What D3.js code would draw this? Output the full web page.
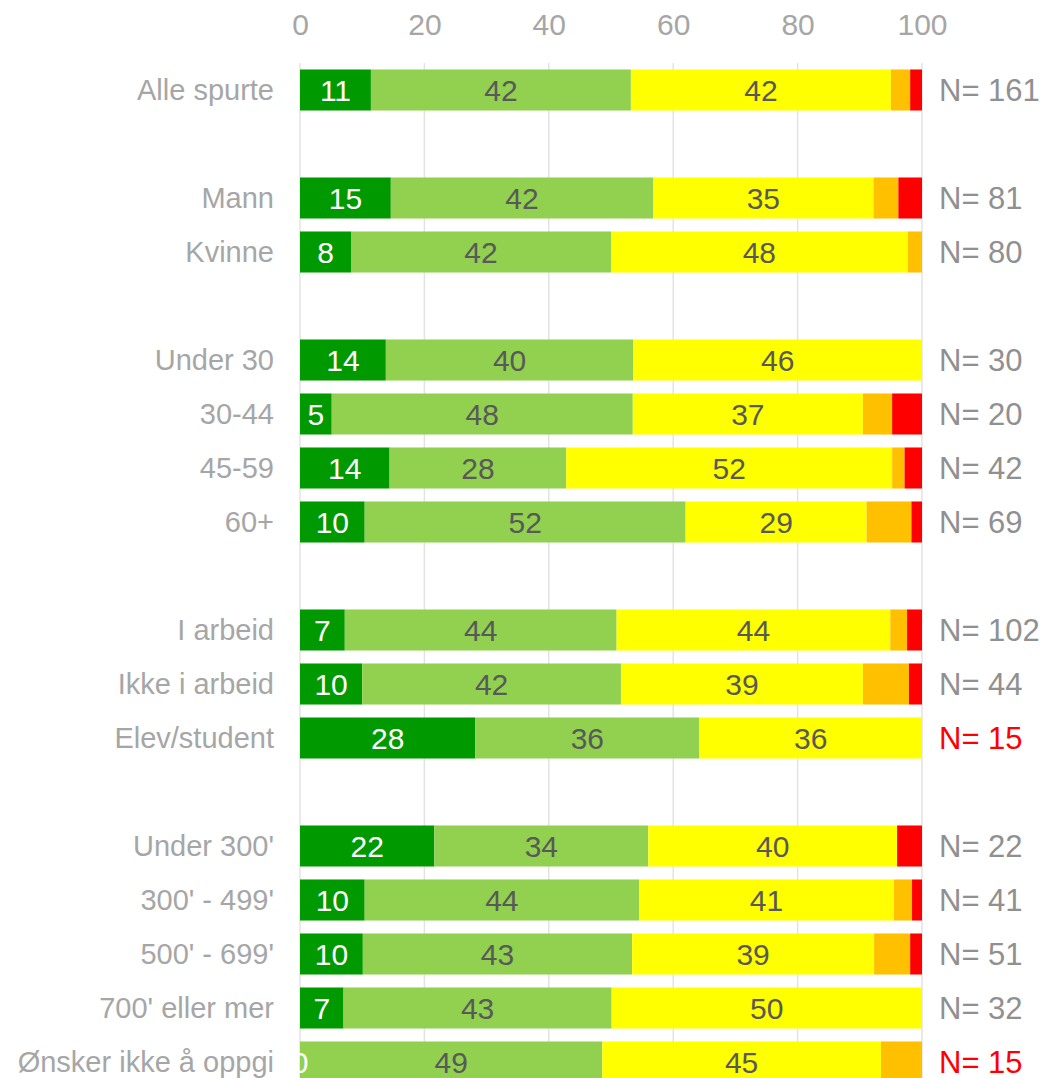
<!DOCTYPE html>
<html>
<head>
<meta charset="utf-8">
<script src="https://cdn.jsdelivr.net/npm/d3@7"></script>
<style>
  html, body { margin: 0; padding: 0; background: #fff; }
  text { font-family: "Liberation Sans", Arial, sans-serif; }
</style>
</head>
<body>
<svg id="chart" width="1046" height="1078"></svg>
<script>
// Row categories (empty strings are spacer rows between groups)
const categories = ["Alle spurte", "", "Mann", "Kvinne", "", "Under 30", "30-44", "45-59", "60+", "",
  "I arbeid", "Ikke i arbeid", "Elev/student", "", "Under 300'", "300' - 499'", "500' - 699'", "700' eller mer", "Ønsker ikke å oppgi"];
const seriesNames = ["s1", "s2", "s3", "s4", "s5"];
const s1 = [11.4, null, 14.6, 8.2, null, 13.8, 5.1, 14.4, 10.4, null, 7.2, 10.0, 28.2, null, 21.6, 10.4, 10.1, 7.0, 0];
const s2 = [41.8, null, 42.2, 41.8, null, 39.8, 48.4, 28.4, 51.6, null, 43.7, 41.6, 36.0, null, 34.4, 44.1, 43.3, 43.1, 48.6];
const s3 = [41.8, null, 35.4, 47.7, null, 46.4, 37.0, 52.4, 29.1, null, 44.0, 38.9, 35.8, null, 40.0, 41.0, 38.9, 49.9, 44.8];
const s4 = [3.1, null, 4.0, 2.3, null, 0, 4.7, 2.0, 7.2, null, 2.7, 7.4, 0, null, 0, 2.9, 5.8, 0, 6.6];
const s5 = [1.9, null, 3.8, 0, null, 0, 4.8, 2.8, 1.7, null, 2.4, 2.1, 0, null, 4.0, 1.6, 1.9, 0, 0];
const nValues = [161, null, 81, 80, null, 30, 20, 42, 69, null, 102, 44, 15, null, 22, 41, 51, 32, 15];
const tickValues = [0, 20, 40, 60, 80, 100];
const colors = ["#009900", "#92D050", "#FFFF00", "#FFC000", "#FF0000"];
const labelColors = ["#FFFFFF", "#595959", "#595959", null, null];

const svg = d3.select("#chart");
const x = d3.scaleLinear().domain([0, 100]).range([300, 922]);
const y = d3.scaleBand().domain(d3.range(categories.length)).range([63, 63 + 54 * categories.length]).paddingInner(0.24).paddingOuter(0.12);

// data table
const rows = categories.map((c, i) => ({ idx: i, cat: c, s1: s1[i], s2: s2[i], s3: s3[i], s4: s4[i], s5: s5[i], n: nValues[i] }));
const dataRows = rows.filter(r => r.n !== null);

// gridlines
svg.append("g").selectAll("line").data(tickValues).join("line")
  .attr("x1", d => x(d)).attr("x2", d => x(d))
  .attr("y1", 63).attr("y2", 1078)
  .attr("stroke", "#E3E3E3").attr("stroke-width", 1.5);

// top axis tick labels
const axis = svg.append("g").attr("transform", "translate(0,24)")
  .call(d3.axisTop(x).tickValues(tickValues).tickSize(0).tickPadding(0));
axis.select(".domain").remove();
axis.selectAll("text").attr("font-size", 30).attr("fill", "#A6A6A6")
  .attr("dy", "0.35em").style("font-family", "'Liberation Sans', Arial, sans-serif");

// stacks
const stack = d3.stack().keys(seriesNames).value((d, k) => d[k] || 0);
const stacked = stack(dataRows);

const layers = svg.append("g").selectAll("g").data(stacked).join("g")
  .attr("fill", (d, i) => colors[i]);
layers.selectAll("rect").data(d => d).join("rect")
  .attr("x", d => x(d[0]))
  .attr("width", d => x(d[1]) - x(d[0]))
  .attr("y", d => y(d.data.idx))
  .attr("height", y.bandwidth());

// value labels for first three series
stacked.forEach((layer, li) => {
  if (!labelColors[li]) return;
  svg.append("g").selectAll("text").data(layer).join("text")
    .attr("x", d => x((d[0] + d[1]) / 2))
    .attr("y", d => y(d.data.idx) + y.bandwidth() / 2)
    .attr("dy", "0.36em")
    .attr("text-anchor", "middle")
    .attr("font-size", 30)
    .attr("fill", labelColors[li])
    .text(d => Math.round(d.data[seriesNames[li]]));
});

// category labels
svg.append("g").selectAll("text").data(dataRows).join("text")
  .attr("x", 274)
  .attr("y", d => y(d.idx) + y.bandwidth() / 2)
  .attr("dy", "0.36em")
  .attr("text-anchor", "end")
  .attr("font-size", 29)
  .attr("fill", "#A6A6A6")
  .text(d => d.cat);

// N labels
svg.append("g").selectAll("text").data(dataRows).join("text")
  .attr("x", 939)
  .attr("y", d => y(d.idx) + y.bandwidth() / 2)
  .attr("dy", "0.36em")
  .attr("font-size", 31)
  .attr("fill", d => d.n < 20 ? "#FF0000" : "#909090")
  .text(d => "N= " + d.n);
</script>
</body>
</html>
